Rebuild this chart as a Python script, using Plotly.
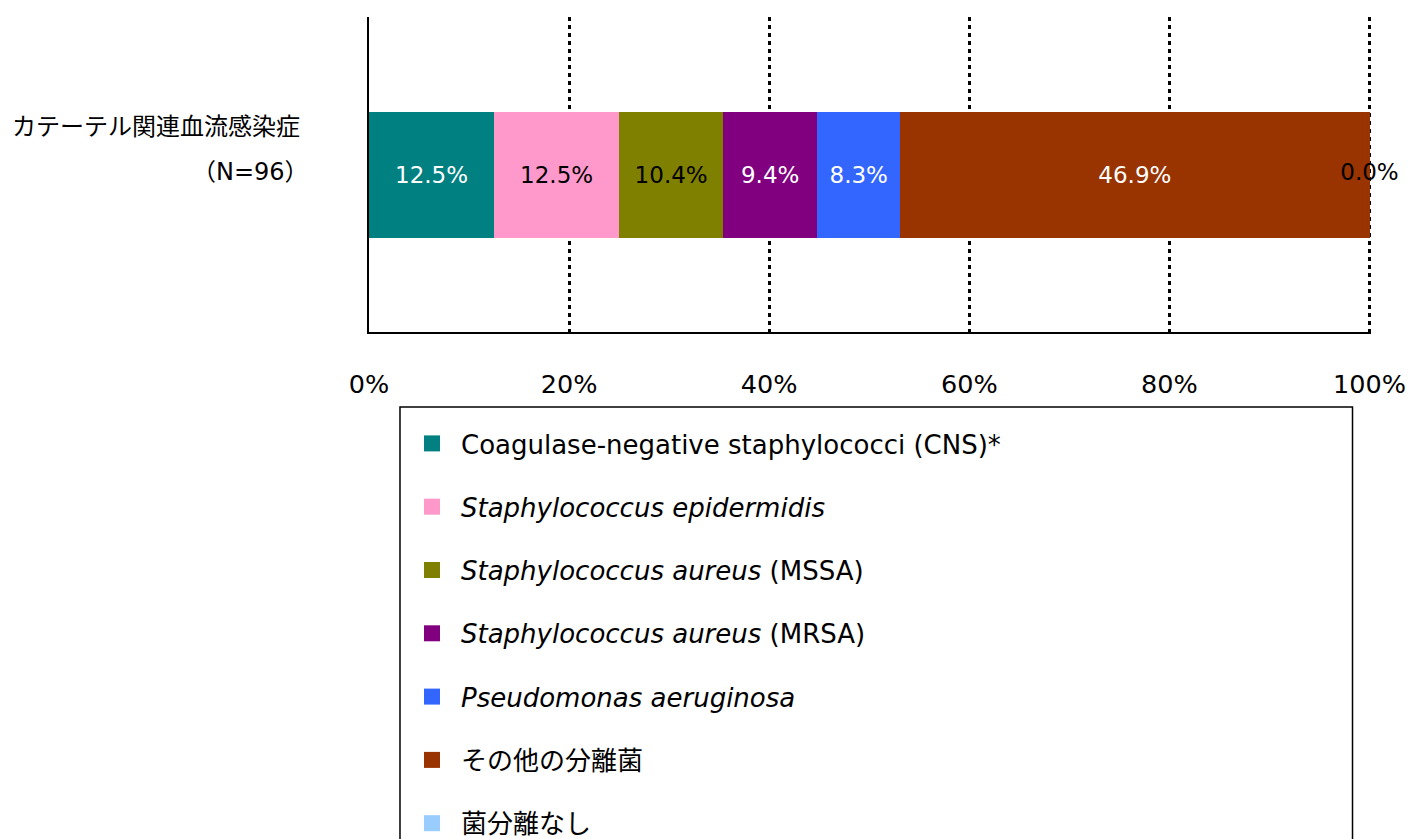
import plotly.graph_objects as go

category = "カテーテル関連血流感染症"
category_n = "（N=96）"
series_names = [
    "Coagulase-negative staphylococci (CNS)*",
    "<i>Staphylococcus epidermidis</i>",
    "<i>Staphylococcus aureus</i> (MSSA)",
    "<i>Staphylococcus aureus</i> (MRSA)",
    "<i>Pseudomonas aeruginosa</i>",
    "その他の分離菌",
    "菌分離なし",
]
values = [12.5, 12.5, 10.4, 9.4, 8.3, 46.9, 0.0]
colors = ["#008080", "#FF99CC", "#808000", "#800080", "#3366FF", "#993300", "#99CCFF"]
label_colors = ["white", "black", "black", "white", "white", "white", "black"]
tick_vals = [0, 20, 40, 60, 80, 100]
tick_text = ["0%", "20%", "40%", "60%", "80%", "100%"]

FONT = "DejaVu Sans, Verdana, Noto Sans CJK JP, sans-serif"

OFF = 0  # body margin removed via post_script
PAGE_W, PAGE_H = 1408, 839
W, H = PAGE_W - OFF, PAGE_H - OFF
# plot area in page pixels
PX0, PX1, PY0, PY1 = 369, 1371.5, 17, 332
L, R = PX0 - OFF, W - (PX1 - OFF)
T, B = PY0 - OFF, H - (PY1 - OFF)
pw, ph = W - L - R, H - T - B

def px2x(px):
    return (px - OFF - L) / pw

def py2y(py):
    return (H - B - (py - OFF)) / ph

fig = go.Figure()
cum = 0.0
for i, (name, v, c, lc) in enumerate(zip(series_names, values, colors, label_colors)):
    fig.add_trace(go.Bar(
        x=[v], y=[category], orientation="h", name=name,
        marker=dict(color=c, line=dict(width=0)),
        text=[f"{v:.1f}%"] if v > 0 else None,
        textposition="inside", insidetextanchor="middle",
        textfont=dict(color=lc, size=23, family=FONT),
        showlegend=False, width=0.4,
        hoverinfo="skip",
    ))
    if v == 0:
        fig.add_trace(go.Scatter(
            x=[cum + v], y=[category], mode="text", text=[f"{v:.1f}%"],
            textposition="middle center", cliponaxis=False,
            textfont=dict(color=lc, size=23, family=FONT),
            showlegend=False, hoverinfo="skip",
        ))
    cum += v
    fig.add_trace(go.Scatter(
        x=[None], y=[None], mode="markers", name=name,
        marker=dict(symbol="square", size=16, color=c),
        legendgroup=f"g{i}", showlegend=True,
    ))

fig.update_layout(
    width=W, height=H,
    margin=dict(l=L, r=R, t=T, b=B, autoexpand=False),
    barmode="stack",
    plot_bgcolor="white", paper_bgcolor="white",
    font=dict(family=FONT, size=24, color="black"),
    xaxis=dict(
        range=[0, 100.15], tickvals=tick_vals, ticktext=tick_text,
        showgrid=True, gridcolor="black", gridwidth=2.5, griddash="4px,4px",
        zeroline=False, showline=True, linecolor="black", linewidth=2,
        ticks="", ticklabelstandoff=28,
        tickfont=dict(size=25.5, family=FONT),
        fixedrange=True,
    ),
    yaxis=dict(
        range=[-0.5, 0.5], showticklabels=False, showgrid=False,
        zeroline=False, showline=True, linecolor="black", linewidth=2,
        ticks="", fixedrange=True,
    ),
    showlegend=True,
    legend=dict(
        x=px2x(403), y=py2y(420), xanchor="left", yanchor="top",
        orientation="v", traceorder="grouped", tracegroupgap=26.5,
        font=dict(size=26, family=FONT),
        bgcolor="rgba(0,0,0,0)", borderwidth=0,
        itemwidth=48, maxheight=900,
    ),
    shapes=[dict(
        type="rect", xref="paper", yref="paper",
        x0=px2x(400), x1=px2x(1353), y0=py2y(1000), y1=py2y(407),
        line=dict(color="black", width=1.5), fillcolor="rgba(0,0,0,0)",
        layer="below",
    )],
    annotations=[
        dict(text=category, xref="paper", yref="paper", x=px2x(302), y=py2y(127),
             xanchor="right", yanchor="middle", showarrow=False,
             font=dict(size=24, family=FONT)),
        dict(text=category_n, xref="paper", yref="paper", x=px2x(311), y=py2y(172),
             xanchor="right", yanchor="middle", showarrow=False,
             font=dict(size=24, family=FONT)),
    ],
)

fig.write_html(
    "out.html",
    config={"displayModeBar": False},
    post_script="document.body.style.margin='0';document.body.style.overflow='hidden';",
)
